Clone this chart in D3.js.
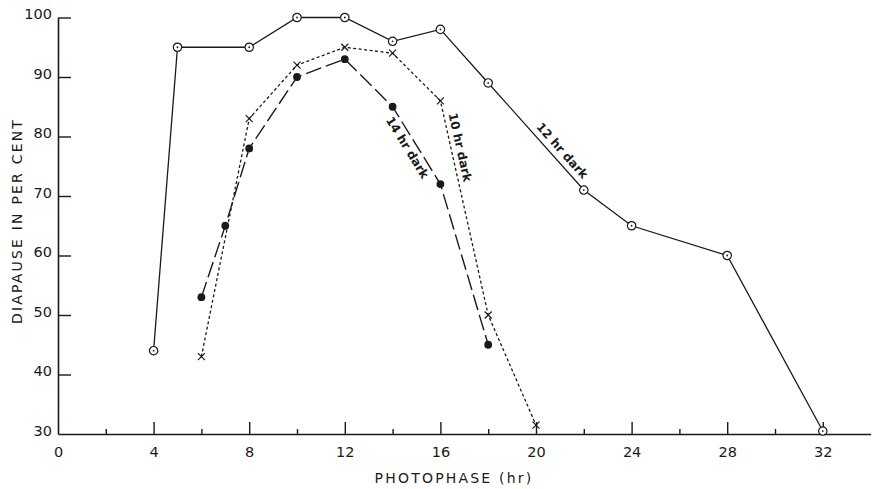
<!DOCTYPE html>
<html>
<head>
<meta charset="utf-8">
<script src="https://cdn.jsdelivr.net/npm/d3@7"></script>
<style>
  html, body { margin: 0; padding: 0; background: #fff; }
  svg { display: block; }
  text { font-family: "DejaVu Sans", sans-serif; fill: #1a1a1a; }
</style>
</head>
<body>
<svg id="chart" width="875" height="489"></svg>
<script>
// Photophase (hr) and percentage diapause for three dark-period regimes
const photo12 = [4, 5, 8, 10, 12, 14, 16, 18, 22, 24, 28, 32];
const dia12   = [44, 95, 95, 100, 100, 96, 98, 89, 71, 65, 60, 30.5];

const photo10 = [6, 8, 10, 12, 14, 16, 18, 20];
const dia10   = [43, 83, 92, 95, 94, 86, 50, 31.5];

const photo14 = [6, 7, 8, 10, 12, 14, 16, 18];
const dia14   = [53, 65, 78, 90, 93, 85, 72, 45];

const xLabelTicks = [0, 4, 8, 12, 16, 20, 24, 28, 32];
const xMajorTicks = [4, 8, 12, 16, 20, 24, 28, 32];
const xMinorTicks = [2, 6, 10, 14, 18, 22, 26, 30];
const yTicks = [30, 40, 50, 60, 70, 80, 90, 100];

const ink = "#1a1a1a";
const svg = d3.select("#chart");

const x = d3.scaleLinear().domain([0, 34]).range([58, 870.6]);
const y = d3.scaleLinear().domain([30, 100]).range([434, 17.5]);

// x axis: labels below, ticks pointing up into the plot
const xAxisG = svg.append("g").attr("transform", `translate(0,${y(30)})`);
xAxisG.call(d3.axisBottom(x).tickValues(xLabelTicks).tickFormat(d3.format("d"))
    .tickSizeInner(-12).tickSizeOuter(0).tickPadding(13));
xAxisG.selectAll(".tick line").attr("stroke", ink).attr("stroke-width", 1.4)
  .filter(d => !xMajorTicks.includes(d)).remove();
xAxisG.select(".domain").attr("stroke", ink).attr("stroke-width", 1.6);
xAxisG.selectAll("text").attr("font-size", 14.5).style("fill", ink)
  .style("font-family", "DejaVu Sans, sans-serif");

const xMinorG = svg.append("g").attr("transform", `translate(0,${y(30)})`);
xMinorG.call(d3.axisBottom(x).tickValues(xMinorTicks).tickFormat("")
    .tickSizeInner(-5).tickSizeOuter(0));
xMinorG.select(".domain").remove();
xMinorG.selectAll(".tick line").attr("stroke", ink).attr("stroke-width", 1.4);

// y axis: ticks pointing right into the plot
const yAxisG = svg.append("g").attr("transform", `translate(${x(0)},0)`);
yAxisG.call(d3.axisLeft(y).tickValues(yTicks).tickFormat(d3.format("d"))
    .tickSizeInner(-13).tickSizeOuter(0).tickPadding(6));
yAxisG.select(".domain").attr("stroke", ink).attr("stroke-width", 1.6);
yAxisG.selectAll(".tick line").attr("stroke", ink).attr("stroke-width", 1.4)
  .filter(d => d === 30).remove();
yAxisG.selectAll("text").attr("font-size", 14.5).style("fill", ink)
  .style("font-family", "DejaVu Sans, sans-serif").attr("dy", "0.1em");

// axis titles
svg.append("text")
  .attr("x", 454).attr("y", 483)
  .attr("text-anchor", "middle")
  .attr("font-size", 14).attr("letter-spacing", 2.2)
  .text("PHOTOPHASE (hr)");

svg.append("text")
  .attr("transform", "translate(22,221) rotate(-90)")
  .attr("text-anchor", "middle")
  .attr("font-size", 14).attr("letter-spacing", 2.2)
  .text("DIAPAUSE IN PER CENT");

const line = d3.line().x(d => x(d[0])).y(d => y(d[1]));
const pts12 = photo12.map((p, i) => [p, dia12[i]]);
const pts10 = photo10.map((p, i) => [p, dia10[i]]);
const pts14 = photo14.map((p, i) => [p, dia14[i]]);

// 12 hr dark: solid line
svg.append("path").datum(pts12).attr("d", line)
  .attr("fill", "none").attr("stroke", ink).attr("stroke-width", 1.3);
// 10 hr dark: short dashes
svg.append("path").datum(pts10).attr("d", line)
  .attr("fill", "none").attr("stroke", ink).attr("stroke-width", 1.3)
  .attr("stroke-dasharray", "3,2.5");
// 14 hr dark: long dashes
svg.append("path").datum(pts14).attr("d", line)
  .attr("fill", "none").attr("stroke", ink).attr("stroke-width", 1.4)
  .attr("stroke-dasharray", "16,5");

// markers: dotted open circles
const c12 = svg.append("g").selectAll("g").data(pts12).join("g")
  .attr("transform", d => `translate(${x(d[0])},${y(d[1])})`);
c12.append("circle").attr("r", 4.2).attr("fill", "#fff")
  .attr("stroke", ink).attr("stroke-width", 1.2);
c12.append("circle").attr("r", 0.9).attr("fill", ink);

// crosses
svg.append("g").selectAll("path").data(pts10).join("path")
  .attr("transform", d => `translate(${x(d[0])},${y(d[1])})`)
  .attr("d", "M-3.5,-3.5L3.5,3.5M-3.5,3.5L3.5,-3.5")
  .attr("stroke", ink).attr("stroke-width", 1.2).attr("fill", "none");

// filled dots
svg.append("g").selectAll("circle").data(pts14).join("circle")
  .attr("cx", d => x(d[0])).attr("cy", d => y(d[1])).attr("r", 3.9)
  .attr("fill", ink);

// labels running along a segment of each curve
function segLabel(pts, i, text, along, across) {
  const a = pts[i], b = pts[i + 1];
  const x1 = x(a[0]), y1 = y(a[1]), x2 = x(b[0]), y2 = y(b[1]);
  const ang = Math.atan2(y2 - y1, x2 - x1) * 180 / Math.PI;
  svg.append("text")
    .attr("transform", `translate(${(x1 + x2) / 2},${(y1 + y2) / 2}) rotate(${ang})`)
    .attr("x", along).attr("y", across)
    .attr("text-anchor", "middle")
    .attr("font-size", 12).attr("font-weight", "bold")
    .text(text);
}
segLabel(pts14, 5, "14 hr dark", -3, 13);
segLabel(pts10, 5, "10 hr dark", -60, -5);
segLabel(pts12, 7, "12 hr dark", 28, -6);
</script>
</body>
</html>
